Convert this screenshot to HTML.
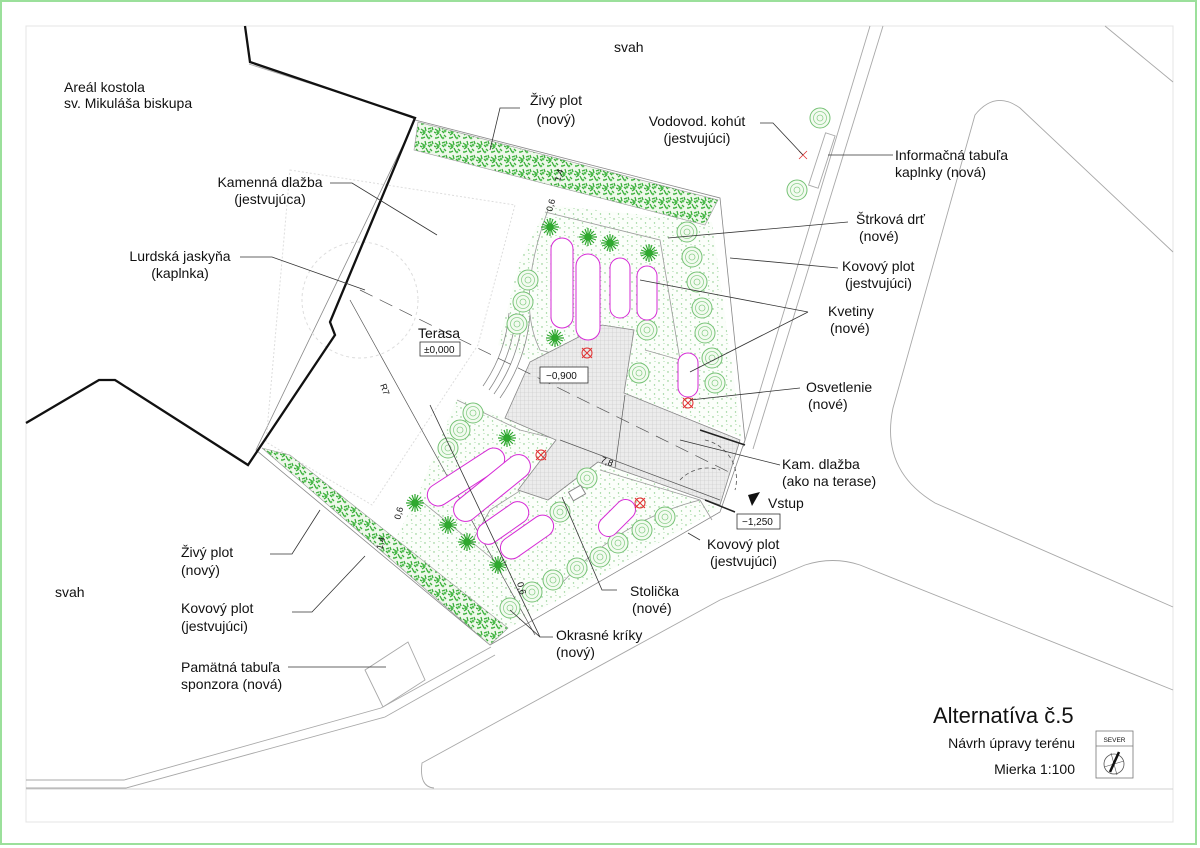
<!DOCTYPE html>
<html><head><meta charset="utf-8"><style>
html,body{margin:0;padding:0;background:#fff}
svg{display:block}
text{font-family:"Liberation Sans",Arial,sans-serif;fill:#111}
</style></head><body>
<svg width="1200" height="848" viewBox="0 0 1200 848" xmlns="http://www.w3.org/2000/svg">
<defs>
<pattern id="dots" width="9" height="9" patternUnits="userSpaceOnUse">
<rect width="9" height="9" fill="#fbfefa"/>
<circle cx="2" cy="3" r="0.7" fill="#7cc47c"/><circle cx="6.5" cy="7" r="0.7" fill="#8fd08f"/><circle cx="7" cy="1.5" r="0.5" fill="#8fd08f"/>
</pattern>
<pattern id="hedge" width="14" height="14" patternUnits="userSpaceOnUse">
<rect width="14" height="14" fill="#eef8ea"/>
<path d="M1 3 l3 2 M5 1 l1 4 M8 3 l3 -1 M2 9 l3 -2 M6 8 l2 4 M10 9 l2 2 M3 12 l2 -1 M8 5 l2 2 M12 1 l1 3 M0 6 l2 1" stroke="#3aae3a" stroke-width="1.3"/>
<circle cx="4" cy="6" r="1.6" fill="#4cbb4c"/><circle cx="11" cy="5" r="1.4" fill="#5cc25c"/><circle cx="9" cy="12" r="1.3" fill="#5cc25c"/><circle cx="2" cy="12" r="1.1" fill="#5cc25c"/>
</pattern>
<pattern id="pave" width="4" height="4" patternUnits="userSpaceOnUse">
<rect width="4" height="4" fill="#ececec"/><path d="M0 0H4M0 0V4" stroke="#c4c4c4" stroke-width="0.6"/>
</pattern>
<g id="tree"><circle r="10" fill="#f3fbf0" stroke="#76c276" stroke-width="1"/><circle r="6.5" fill="none" stroke="#8ccf8c" stroke-width="0.8"/><circle r="3" fill="none" stroke="#8ccf8c" stroke-width="0.8"/></g>
<g id="star" stroke="#2fa82f" stroke-width="1.2"><path d="M-9 0H9M0 -9V9M-6 -6L6 6M-6 6L6 -6M-8 -3L8 3M-3 -8L3 8M-8 3L8 -3M3 -8L-3 8"/><circle r="3" fill="#2fa82f"/></g>
<g id="lamp" stroke="#e03030" stroke-width="1" fill="none"><circle r="5"/><path d="M-5 -5L5 5M-5 5L5 -5"/></g>
</defs>

<rect x="1" y="1" width="1195" height="843" fill="none" stroke="#9be09b" stroke-width="2"/>
<rect x="26" y="26" width="1147" height="796" fill="none" stroke="#e4e4e4" stroke-width="1"/>
<line x1="26" y1="789" x2="1173" y2="789" stroke="#d0d0d0" stroke-width="1"/>

<g fill="none" stroke="#a8a8a8" stroke-width="0.9">
<path d="M883 26 L753 449"/><path d="M870 26 L743 447"/>
<path d="M1173 607 L935 503 Q880 470 893 408 L975 115 Q995 90 1020 108 L1173 252"/>
<path d="M1105 26 L1173 82"/>
<path d="M1173 690 L860 565 Q833 556 805 565 L720 600 L422 763 Q419 787 434 788"/>
<path d="M26 780 L124 780 L381 708 L491 647"/>
<path d="M26 788 L126 788 L385 717 L495 655"/>
<path d="M249 64 L412 116"/>
<rect x="817" y="133" width="10" height="55" transform="rotate(18 822 160)"/>
<path d="M365 670 L408 642 L425 680 L383 707 Z"/>
</g>

<path d="M415 120 L720 198 L745 440 L720 512 L490 645 L256 450 Z" fill="#fff" stroke="#888" stroke-width="0.8"/>
<path d="M548 205 L712 222 L742 438 L624 393 L634 330 L602 325 L535 362 L498 345 L520 260 Z" fill="url(#dots)"/>
<path d="M457 398 L505 418 L556 440 L518 490 L548 500 L598 462 L720 508 L505 630 L395 540 L420 490 Z" fill="url(#dots)"/>
<path d="M290 170 L515 205 L478 345 L372 505 L266 442 Z" fill="none" stroke="#ddd" stroke-dasharray="2 2"/>
<circle cx="360" cy="300" r="58" fill="none" stroke="#ddd" stroke-dasharray="3 3"/>
<path d="M418 122 L718 200 L705 225 L414 150 Z" fill="url(#hedge)" stroke="#999" stroke-width="0.6"/>
<path d="M262 448 L290 455 L508 628 L490 645 Z" fill="url(#hedge)" stroke="#999" stroke-width="0.6"/>
<g fill="none" stroke="#9a9a9a" stroke-width="0.8">
<path d="M545 212 L660 240 L680 360 L645 350"/>
<path d="M548 210 Q515 300 540 350 L600 365"/>
<path d="M605 325 L615 360"/>
<path d="M457 400 L520 430 L560 440 L560 465 L490 510 L470 545"/>
<path d="M420 500 L500 565"/>
<path d="M600 470 L700 500 L712 520"/>
<path d="M560 585 Q620 520 700 500"/>
</g>
<g fill="none" stroke="#888" stroke-width="0.8">
<path d="M509 313 A150 150 0 0 1 483 386"/>
<path d="M516 313 A157 157 0 0 1 489 390"/>
<path d="M523 314 A164 164 0 0 1 494 394"/>
<path d="M530 315 A171 171 0 0 1 500 398"/>
</g>
<path d="M530 362 L602 325 L634 330 L624 393 L740 440 L720 505 L598 462 L548 500 L518 490 L556 440 L505 418 Z" fill="url(#pave)" stroke="#888" stroke-width="0.8"/>
<path d="M700 430 L745 445 M705 500 L735 512" stroke="#222" stroke-width="1.5"/>
<path d="M705 440 A40 40 0 0 1 735 490 M680 480 A38 38 0 0 1 720 470" fill="none" stroke="#555" stroke-dasharray="4 3" stroke-width="0.8"/>
<path d="M360 290 L735 475" stroke="#555" stroke-dasharray="14 8" stroke-width="0.7"/>
<path d="M350 300 L535 635" stroke="#555" stroke-width="0.7"/>
<path d="M625 395 L615 468" stroke="#555" stroke-width="0.7"/>
<path d="M560 440 L720 500" stroke="#555" stroke-width="0.7"/>
<text x="600" y="462" font-size="9" transform="rotate(22 600 462)">7,8</text>
<text x="380" y="385" font-size="9" transform="rotate(70 380 385)">R7</text>

<path d="M245 26 L250 62 L415 118 L360 250 L330 322 L335 335 L248 465 L115 380 L99 380 L26 423" fill="none" stroke="#111" stroke-width="2.3"/>

<g>
<use href="#tree" x="687" y="232"/><use href="#tree" x="692" y="257"/><use href="#tree" x="697" y="282"/><use href="#tree" x="702" y="308"/><use href="#tree" x="705" y="333"/><use href="#tree" x="712" y="358"/><use href="#tree" x="715" y="383"/>
<use href="#tree" x="647" y="330"/><use href="#tree" x="639" y="373"/>
<use href="#tree" x="528" y="280"/><use href="#tree" x="523" y="302"/><use href="#tree" x="517" y="324"/>
<use href="#tree" x="473" y="413"/><use href="#tree" x="460" y="430"/><use href="#tree" x="448" y="448"/>
<use href="#tree" x="587" y="478"/><use href="#tree" x="560" y="512"/>
<use href="#tree" x="665" y="517"/><use href="#tree" x="642" y="530"/><use href="#tree" x="618" y="543"/><use href="#tree" x="600" y="557"/><use href="#tree" x="577" y="568"/><use href="#tree" x="553" y="580"/><use href="#tree" x="532" y="592"/><use href="#tree" x="510" y="608"/>
<use href="#tree" x="820" y="118"/><use href="#tree" x="797" y="190"/>
</g>
<g>
<use href="#star" x="550" y="227"/><use href="#star" x="588" y="237"/><use href="#star" x="610" y="243"/><use href="#star" x="649" y="253"/><use href="#star" x="555" y="338"/>
<use href="#star" x="507" y="438"/><use href="#star" x="415" y="503"/><use href="#star" x="448" y="525"/><use href="#star" x="467" y="542"/><use href="#star" x="498" y="565"/>
</g>
<g fill="#fff" stroke="#d62ad6" stroke-width="1">
<rect x="551" y="238" width="22" height="90" rx="11"/>
<rect x="576" y="254" width="24" height="86" rx="12"/>
<rect x="610" y="258" width="20" height="60" rx="10"/>
<rect x="637" y="266" width="20" height="54" rx="10"/>
<rect x="678" y="353" width="20" height="44" rx="10"/>
<rect x="422" y="466" width="88" height="22" rx="11" transform="rotate(-33 466 477)"/>
<rect x="446" y="476" width="92" height="24" rx="12" transform="rotate(-39 492 488)"/>
<rect x="474" y="512" width="58" height="22" rx="11" transform="rotate(-35 503 523)"/>
<rect x="497" y="526" width="60" height="22" rx="11" transform="rotate(-35 527 537)"/>
<rect x="595" y="508" width="44" height="20" rx="10" transform="rotate(-45 617 518)"/>
</g>
<use href="#lamp" x="587" y="353"/><use href="#lamp" x="688" y="403"/><use href="#lamp" x="541" y="455"/><use href="#lamp" x="640" y="503"/>
<g stroke="#e03030" stroke-width="0.8"><path d="M799 151 L807 159 M799 159 L807 151"/></g>
<rect x="570" y="488" width="14" height="10" fill="#fff" stroke="#888" transform="rotate(-30 577 493)"/>
<g font-size="9" fill="#333">
<text x="560" y="182" transform="rotate(-75 560 182)">1,4</text>
<text x="552" y="212" transform="rotate(-75 552 212)">0,6</text>
<text x="400" y="520" transform="rotate(-75 400 520)">0,6</text>
<text x="382" y="550" transform="rotate(-75 382 550)">1,4</text>
<text x="517" y="583" transform="rotate(75 517 583)">0,6</text>
</g>

<g fill="none" stroke="#333" stroke-width="0.8">
<path d="M760 123 L773 123 L803 155"/>
<path d="M828 155 L893 155"/>
<path d="M520 108 L500 108 L490 150"/>
<path d="M330 183 L352 183 L437 235"/>
<path d="M240 257 L272 257 L365 290"/>
<path d="M848 222 L668 238"/>
<path d="M838 268 L730 258"/>
<path d="M808 312 L640 280 M808 312 L690 372"/>
<path d="M800 388 L690 400"/>
<path d="M780 465 L680 440"/>
<path d="M700 540 L688 533"/>
<path d="M270 554 L292 554 L320 510"/>
<path d="M292 612 L312 612 L365 556"/>
<path d="M617 590 L602 590 L562 497"/>
<path d="M553 637 L540 637 L430 405 M540 637 L510 610"/>
<path d="M288 667 L386 667"/>
</g>

<g font-size="14">
<text x="614" y="52">svah</text>
<text x="64" y="92">Areál kostola</text>
<text x="64" y="108">sv. Mikuláša biskupa</text>
<text x="556" y="105" text-anchor="middle">Živý plot</text>
<text x="556" y="124" text-anchor="middle">(nový)</text>
<text x="697" y="126" text-anchor="middle">Vodovod. kohút</text>
<text x="697" y="143" text-anchor="middle">(jestvujúci)</text>
<text x="895" y="160">Informačná tabuľa</text>
<text x="895" y="177">kaplnky (nová)</text>
<text x="270" y="187" text-anchor="middle">Kamenná dlažba</text>
<text x="270" y="204" text-anchor="middle">(jestvujúca)</text>
<text x="180" y="261" text-anchor="middle">Lurdská jaskyňa</text>
<text x="180" y="278" text-anchor="middle">(kaplnka)</text>
<text x="856" y="224">Štrková drť</text>
<text x="859" y="241">(nové)</text>
<text x="842" y="271">Kovový plot</text>
<text x="845" y="288">(jestvujúci)</text>
<text x="828" y="316">Kvetiny</text>
<text x="830" y="333">(nové)</text>
<text x="418" y="338">Terasa</text>
<text x="806" y="392">Osvetlenie</text>
<text x="808" y="409">(nové)</text>
<text x="782" y="469">Kam. dlažba</text>
<text x="782" y="486">(ako na terase)</text>
<text x="768" y="508">Vstup</text>
<text x="707" y="549">Kovový plot</text>
<text x="710" y="566">(jestvujúci)</text>
<text x="181" y="557">Živý plot</text>
<text x="181" y="575">(nový)</text>
<text x="55" y="597">svah</text>
<text x="630" y="596">Stolička</text>
<text x="632" y="613">(nové)</text>
<text x="181" y="613">Kovový plot</text>
<text x="181" y="631">(jestvujúci)</text>
<text x="556" y="640">Okrasné kríky</text>
<text x="556" y="657">(nový)</text>
<text x="181" y="672">Pamätná tabuľa</text>
<text x="181" y="689">sponzora (nová)</text>
</g>
<g font-size="10">
<rect x="420" y="342" width="40" height="14" fill="#fff" stroke="#333" stroke-width="0.8"/><text x="424" y="353">±0,000</text>
<rect x="540" y="367" width="48" height="16" fill="#fff" stroke="#333" stroke-width="0.8"/><text x="546" y="379">−0,900</text>
<rect x="737" y="514" width="43" height="15" fill="#fff" stroke="#333" stroke-width="0.8"/><text x="742" y="525">−1,250</text>
</g>
<path d="M748 495 L760 492 L752 506 Z" fill="#111"/>

<text x="933" y="723" font-size="22">Alternatíva č.5</text>
<text x="1075" y="748" font-size="14" text-anchor="end">Návrh úpravy terénu</text>
<text x="1075" y="774" font-size="14" text-anchor="end">Mierka 1:100</text>
<rect x="1096" y="731" width="37" height="47" fill="#fff" stroke="#777" stroke-width="0.8"/>
<line x1="1096" y1="746" x2="1133" y2="746" stroke="#777" stroke-width="0.8"/>
<text x="1114.5" y="742" font-size="6.5" text-anchor="middle">SEVER</text>
<circle cx="1114" cy="764" r="10" fill="none" stroke="#555" stroke-width="0.8"/>
<path d="M1104 767 L1124 761 M1111 753 L1117 775" stroke="#555" stroke-width="0.6"/>
<path d="M1119 752 L1110 772" stroke="#111" stroke-width="2.5"/>
</svg>
</body></html>
